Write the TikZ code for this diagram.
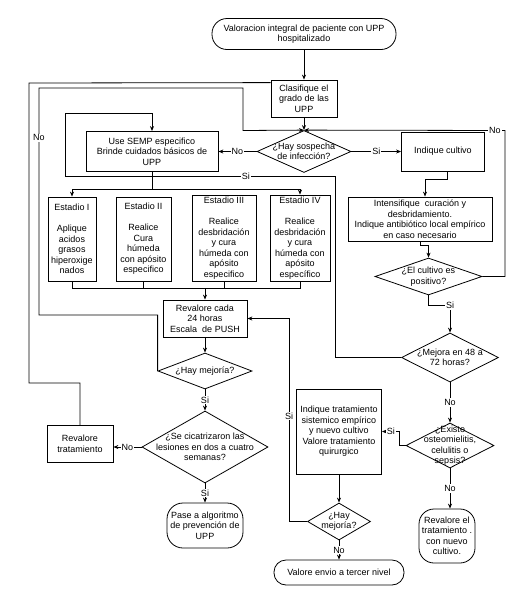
\documentclass[tikz,border=0pt]{standalone}
\usepackage{fontspec}
\setmainfont{Liberation Sans}
\usetikzlibrary{shapes.geometric,arrows.meta}

\tikzset{
  box/.style={draw, rectangle, line width=0.8pt, inner sep=0pt, align=center},
  terminal/.style={draw, rectangle, rounded corners=13pt, line width=0.8pt, inner sep=0pt, align=center},
  decision/.style={draw, diamond, line width=0.8pt, inner sep=0pt},
  lbl/.style={fill=white, inner sep=1pt},
  every label/.style={align=center, inner sep=0pt}
}

\begin{document}
\begin{tikzpicture}[x=1pt, y=-1pt, >={Stealth[length=5pt,width=4pt]}, line width=0.8pt,
  font=\fontsize{9}{10.5}\selectfont]
\useasboundingbox (0,0) rectangle (528,595);
% columna central
\node[terminal, minimum width=184pt, minimum height=31pt, rounded corners=15pt] (inicio) at (304,34) {Valoracion integral de paciente con UPP\\hospitalizado};
\node[box, minimum width=66pt, minimum height=37pt] (clasif) at (304,98.5) {Clasifique el\\grado de las\\UPP};
\node[decision, minimum width=94pt, minimum height=42pt, label={center:{¿Hay sospecha\\de infección?}}] (infeccion) at (304,151.5) {};
\node[box, minimum width=132pt, minimum height=40pt] (semp) at (152,151.5) {Use SEMP especifico\\Brinde cuidados básicos de\\UPP};
\node[box, minimum width=83pt, minimum height=39pt] (cultivo) at (443,151.5) {Indique cultivo};
% estadios
\node[box, minimum width=48pt, minimum height=84pt] (est1) at (72,239) {Estadio I\\\mbox{}\\Aplique\\acidos\\grasos\\hiperoxige\\nados};
\node[box, minimum width=55pt, minimum height=84pt] (est2) at (143.5,239) {Estadio II\\\mbox{}\\Realice\\Cura\\húmeda\\con apósito\\especifico};
\node[box, minimum width=64pt, minimum height=86pt] (est3) at (224,238) {Estadio III\\\mbox{}\\Realice\\desbridación\\y cura\\húmeda con\\apósito\\especifico};
\node[box, minimum width=60pt, minimum height=86pt] (est4) at (300,238) {Estadio IV\\\mbox{}\\Realice\\desbridación\\y cura\\húmeda con\\apósito\\específico};
\node[box, minimum width=84pt, minimum height=37pt] (rev24) at (205,318.5) {Revalore cada\\24 horas\\Escala~ de PUSH};
\node[decision, minimum width=94pt, minimum height=36pt, label={center:{¿Hay mejoría?}}] (mejoria) at (205,371) {};
\node[decision, minimum width=126pt, minimum height=72pt, label={center:{¿Se cicatrizaron las\\lesiones en dos a cuatro\\semanas?}}] (cicatriz) at (205,447) {};
\node[box, minimum width=66pt, minimum height=37pt] (revtrat) at (80,444) {Revalore\\tratamiento};
\node[terminal, minimum width=76pt, minimum height=45pt, rounded corners=16pt] (pase) at (205,525.5) {Pase a algoritmo\\de prevención de\\UPP};
% columna derecha
\node[box, minimum width=144pt, minimum height=44pt] (intens) at (420,219) {Intensifique~ curación y\\desbridamiento.\\Indique antibiótico local empírico\\en caso necesario};
\node[decision, minimum width=107pt, minimum height=37pt, label={center:{¿El cultivo es\\positivo?}}] (positivo) at (428.5,276.5) {};
\node[decision, minimum width=97pt, minimum height=49pt, label={center:{¿Mejora en 48 a\\72 horas?}}] (mejora48) at (450,357.5) {};
\node[decision, minimum width=88pt, minimum height=45pt, label={center:{¿Existe\\osteomielitis,\\celulitis o\\sepsis?}}] (existe) at (450,445.5) {};
\node[box, minimum width=85pt, minimum height=85pt] (sistem) at (339,431.5) {Indique tratamiento\\sistemico empírico\\y nuevo cultivo\\Valore tratamiento\\quirurgico};
\node[decision, minimum width=63pt, minimum height=37pt, label={center:{¿Hay\\mejoría?}}] (mejoria2) at (339,521.5) {};
\node[terminal, minimum width=130pt, minimum height=25pt, rounded corners=12pt] (envio) at (339,572.5) {Valore envio a tercer nivel};
\node[terminal, minimum width=56pt, minimum height=54pt, rounded corners=15pt] (reval) at (447,536) {Revalore el\\tratamiento .\\con nuevo\\cultivo.};

% conectores
\draw[->] (inicio) -- (clasif);
\draw[->] (clasif) -- (infeccion);
\draw[->] (infeccion.west) -- node[lbl]{No} (semp.east);
\draw[->] (infeccion.east) -- node[lbl]{Si} (cultivo.west);
\draw[->] ([xshift=4pt]cultivo.south) -- ++(0,8) -| ([xshift=5pt]intens.north);
\draw[->] (intens.south) -- ++(0,4) -| (positivo.north);
\draw[->] (positivo.east) -| (505,130.5) -- node[lbl,pos=0.05]{No} (infeccion.north);
\draw[->] (positivo.south) -- ++(0,10) -| node[lbl,pos=0.5]{Si} (mejora48.north);
\draw[->] (mejora48.west) -| (335,176) -- node[lbl,pos=0.33]{Si} (65,176) -- (65,113) -| (semp.north);
\draw (semp.south) -- ++(0,17) coordinate (reparto);
\draw[->] (reparto) -| (est1.north);
\draw[->] (reparto) -| (est4.north);
\coordinate (union) at (205,288);
\foreach \e in {est1,est2,est3,est4} \draw (\e.south) |- (union);
\draw[->] (union) -- (rev24.north);
\draw[->] (rev24) -- (mejoria);
\draw[->] (mejoria) -- node[lbl]{Si} (cicatriz);
\draw[->] (mejoria.west) |- (39,315) -- node[lbl,pos=0.78]{No} (39,88) -| (243,130.5) -- (infeccion.north);
\draw[->] (cicatriz.west) -- node[lbl]{No} (cicatriz.west -| revtrat.east);
\draw[->] (cicatriz) -- node[lbl]{Si} (pase);
\draw (revtrat.north) |- (29,383) -- (29,83) -- ([yshift=-3pt]clasif.north west);
\draw[->] (mejora48) -- node[lbl]{No} (existe);
\draw[->] (existe.west) -- ++(-6,0) |- node[lbl,pos=0.75]{Si} (sistem.east);
\draw[->] (existe.south) -- node[lbl]{No} (existe.south |- reval.north);
\draw[->] (sistem) -- (mejoria2);
\draw[->] (mejoria2) -- node[lbl]{No} (envio);
\draw[->] (mejoria2.west) -- ++(-18,0) |- node[lbl,pos=0.26]{Si} (rev24.east);
\end{tikzpicture}
\end{document}
